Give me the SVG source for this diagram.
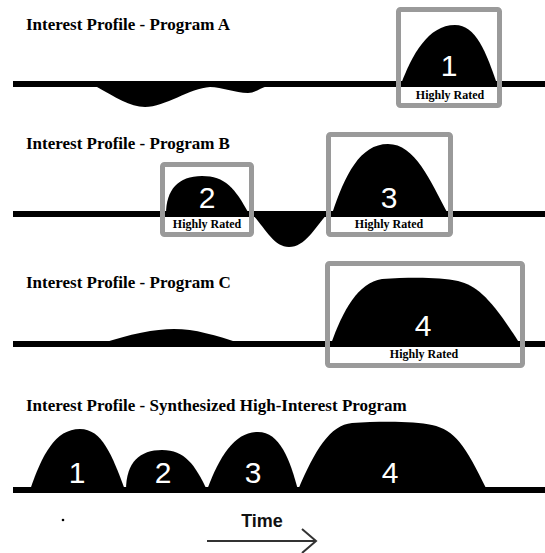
<svg xmlns="http://www.w3.org/2000/svg" width="545" height="553" viewBox="0 0 545 553">
<style>
.title{font-family:"Liberation Serif","Times New Roman",serif;font-weight:bold;font-size:17px;fill:#000}
.hr{font-family:"Liberation Serif","Times New Roman",serif;font-weight:bold;font-size:12px;fill:#000;text-anchor:middle}
.num{font-family:"Liberation Sans",Arial,sans-serif;font-size:30px;fill:#fff;text-anchor:middle}
.box{fill:none;stroke:#9a9a9a;stroke-width:5}
.base{stroke:#000;stroke-width:6}
.shape{fill:#000}
</style>
<rect width="545" height="553" fill="#fff"/>

<g id="programA">
  <text class="title" x="26" y="30">Interest Profile - Program A</text>
  <line class="base" x1="13" y1="84" x2="545" y2="84"/>
  <path class="shape" d="M95,84 L97,87 C115,97 130,107 145,107 C165,107 190,88 210,87 C222,87 235,93 248,93 C255,93 260,88 268,86 L268,84 Z"/>
  <path class="shape" d="M401,84 C412,55 428,25 455,25 C476,25 486,52 497,84 Z"/>
  <rect class="box" x="398.5" y="9.5" width="101" height="96" rx="2"/>
  <text class="num" x="449" y="76">1</text>
  <text class="hr" x="450" y="99">Highly Rated</text>
</g>

<g id="programB">
  <text class="title" x="26" y="149">Interest Profile - Program B</text>
  <line class="base" x1="13" y1="214" x2="545" y2="214"/>
  <path class="shape" d="M166,214 C166,190 178,176 202,176 C225,176 235,188 249,214 Z"/>
  <path class="shape" d="M252,214 C265,228 274,247 289,247 C305,247 315,228 327,214 Z"/>
  <path class="shape" d="M332,214 C345,175 360,144 388,144 C415,144 430,180 448,214 Z"/>
  <rect class="box" x="162.5" y="164.5" width="89" height="70" rx="2"/>
  <rect class="box" x="328.5" y="134.5" width="122" height="100" rx="2"/>
  <text class="num" x="207" y="208">2</text>
  <text class="num" x="389" y="208">3</text>
  <text class="hr" x="207" y="228">Highly Rated</text>
  <text class="hr" x="389" y="228">Highly Rated</text>
</g>

<g id="programC">
  <text class="title" x="26" y="288">Interest Profile - Program C</text>
  <line class="base" x1="13" y1="344" x2="545" y2="344"/>
  <path class="shape" d="M100,344 C130,334 155,329 174,329 C195,329 215,335 242,344 Z"/>
  <path class="shape" d="M331,344 C343,310 358,283 382,279 C410,277 440,277 458,281 C478,286 492,300 520,344 Z"/>
  <rect class="box" x="327.5" y="263.5" width="195" height="102" rx="2"/>
  <text class="num" x="423" y="336">4</text>
  <text class="hr" x="424" y="358">Highly Rated</text>
</g>

<g id="synthesized">
  <text class="title" x="26" y="411">Interest Profile - Synthesized High-Interest Program</text>
  <line class="base" x1="13" y1="490" x2="545" y2="490"/>
  <path class="shape" d="M30,490 C42,455 55,429 80,429 C102,429 112,455 125,490 Z"/>
  <path class="shape" d="M126,490 C126,462 140,450 162,450 C185,450 195,465 207,490 Z"/>
  <path class="shape" d="M207,490 C220,455 235,432 258,432 C280,432 290,460 298,490 Z"/>
  <path class="shape" d="M298,490 C315,450 330,425 352,423 C380,421 415,421 432,425 C455,430 465,445 487,490 Z"/>
  <text class="num" x="77" y="483">1</text>
  <text class="num" x="163" y="483">2</text>
  <text class="num" x="253" y="483">3</text>
  <text class="num" x="390" y="483">4</text>
</g>

<g id="timeAxis">
  <circle cx="63" cy="520" r="1.3" fill="#000"/>
  <text x="262" y="527" text-anchor="middle" style="font-family:'Liberation Sans',Arial,sans-serif;font-weight:bold;font-size:18px;fill:#111">Time</text>
  <g id="connectors">
    <line x1="207" y1="541" x2="315" y2="541" stroke="#333" stroke-width="2"/>
    <polyline points="302,529 316,541 302,553" fill="none" stroke="#333" stroke-width="2"/>
  </g>
</g>
</svg>
